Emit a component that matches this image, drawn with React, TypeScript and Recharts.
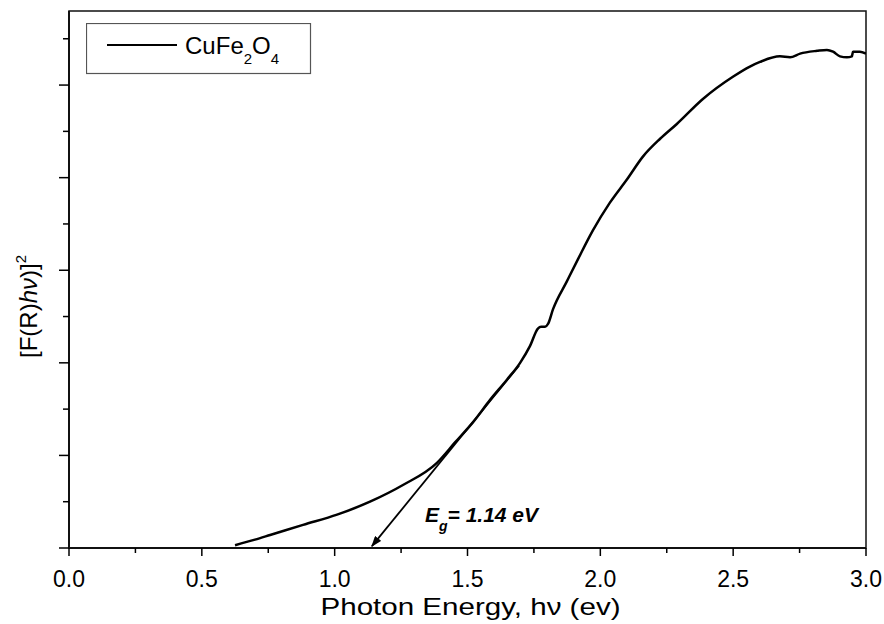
import React from 'react';
import { LineChart, Line, XAxis, YAxis, Legend, ReferenceArea, ReferenceDot, Label } from 'recharts';

// Photon energy (eV) and Kubelka-Munk [F(R)hv]^2 (arb. units)
const ENERGY = [0.625, 0.70, 0.757, 0.881, 1.009, 1.133, 1.257, 1.385, 1.453, 1.521, 1.585, 1.649, 1.698, 1.735, 1.765, 1.777, 1.792, 1.803, 1.822, 1.874, 1.916, 1.972, 2.036, 2.10, 2.161, 2.225, 2.288, 2.386, 2.499, 2.563, 2.601, 2.676, 2.714, 2.752, 2.816, 2.853, 2.876, 2.902, 2.928, 2.947, 2.951, 2.977, 3.0];
const F_VALUES = [0.03, 0.09, 0.14, 0.25, 0.36, 0.50, 0.68, 0.92, 1.14, 1.36, 1.60, 1.82, 2.00, 2.18, 2.37, 2.39, 2.39, 2.42, 2.58, 2.88, 3.12, 3.43, 3.73, 3.98, 4.23, 4.42, 4.58, 4.85, 5.09, 5.20, 5.25, 5.31, 5.30, 5.34, 5.37, 5.38, 5.36, 5.31, 5.30, 5.31, 5.36, 5.36, 5.34];

// Tangent (Tauc extrapolation) line, drawn from upper end down to the band-gap intercept
const EG_VALUE = 1.14;
const TANGENT_X = [1.694, EG_VALUE];
const TANGENT_Y = [1.97, 0.02];

// Annotation anchor
const ANNOT_X = [1.34];
const ANNOT_Y = [0.28];

const X_TICKS = [0, 0.25, 0.5, 0.75, 1, 1.25, 1.5, 1.75, 2, 2.25, 2.5, 2.75, 3];
const Y_TICKS = [0, 0.5, 1, 1.5, 2, 2.5, 3, 3.5, 4, 4.5, 5, 5.5];
const X_DOMAIN = [0, 3];
const Y_DOMAIN = [0, 5.8];

const SERIES_NAME = 'CuFe2O4';
const X_TITLE = 'Photon Energy, h\u03bd (ev)';

const curveData = ENERGY.map((x, i) => ({ x, y: F_VALUES[i] }));
const tangentData = TANGENT_X.map((x, i) => ({ x, y: TANGENT_Y[i] }));

const FONT = '"Liberation Sans", Arial, Helvetica, sans-serif';

const isMajor = (v: number) => Math.abs(v * 2 - Math.round(v * 2)) < 1e-6;
const isInt = (v: number) => Math.abs(v - Math.round(v)) < 1e-6;

const XTick = (props: any) => {
  const { x, y, payload } = props;
  const major = isMajor(payload.value);
  return (
    <g>
      <line x1={x} x2={x} y1={y} y2={y + (major ? 8 : 5)} stroke="#000" strokeWidth={1.5} />
      {major && (
        <text x={x} y={y + 39} textAnchor="middle" fontSize={23} fontFamily={FONT} fill="#000">
          {Number(payload.value).toFixed(1)}
        </text>
      )}
    </g>
  );
};

const YTick = (props: any) => {
  const { x, y, payload } = props;
  const major = isInt(payload.value);
  return <line x1={x - (major ? 10 : 6)} x2={x} y1={y} y2={y} stroke="#000" strokeWidth={1.5} />;
};

const XTitle = (props: any) => {
  const vb = props.viewBox || {};
  const cx = vb.x + vb.width / 2 + 3;
  return (
    <text x={cx} y={vb.y + 67} textAnchor="middle" fontSize={24} fontFamily={FONT} fill="#000"
      textLength={300} lengthAdjust="spacingAndGlyphs">
      {X_TITLE}
    </text>
  );
};

const YTitle = (props: any) => {
  const vb = props.viewBox || {};
  const tx = vb.x + vb.width - 32;
  const ty = vb.y + vb.height / 2 + 27;
  return (
    <text x={tx} y={ty} transform={`rotate(-90, ${tx}, ${ty})`} textAnchor="middle" fontSize={24} fontFamily={FONT} fill="#000">
      <tspan>[F(R)</tspan>
      <tspan fontStyle="italic">h{'\u03bd'}</tspan>
      <tspan>)]</tspan>
      <tspan fontSize={15} dy={-11}>2</tspan>
    </text>
  );
};

const renderName = (name: string, big: number, small: number) => {
  const parts: any[] = [];
  let sub = false;
  name.split('').forEach((ch, i) => {
    const digit = /[0-9]/.test(ch);
    if (digit && !sub) {
      parts.push(<tspan key={i} fontSize={small} dy={10}>{ch}</tspan>);
      sub = true;
    } else if (!digit && sub) {
      parts.push(<tspan key={i} fontSize={big} dy={-10}>{ch}</tspan>);
      sub = false;
    } else {
      parts.push(<tspan key={i} fontSize={digit ? small : big}>{ch}</tspan>);
    }
  });
  return parts;
};

const LegendBox = (props: any) => {
  const payload = (props.payload || []).filter((p: any) => p.type !== 'none');
  const item = payload[0];
  const name = item ? String(item.value) : SERIES_NAME;
  return (
    <svg width={226} height={52} style={{ display: 'block' }}>
      <rect x={0.5} y={0.5} width={224} height={50} fill="#fff" stroke="#555" strokeWidth={1.2} />
      <line x1={21} x2={91} y1={22} y2={22} stroke="#000" strokeWidth={2} />
      <text x={99} y={31} fontFamily={FONT} fill="#000" fontSize={24}>
        {renderName(name, 24, 15)}
      </text>
    </svg>
  );
};

const EgLabel = (props: any) => {
  const vb = props.viewBox || {};
  const x = vb.x + (vb.width || 0) / 2;
  const y = vb.y + (vb.height || 0) / 2;
  return (
    <g>
      <defs>
        <marker id="arrowHead" markerUnits="userSpaceOnUse" markerWidth={11} markerHeight={8} viewBox="0 0 11 8" refX={10} refY={4} orient="auto">
          <path d="M0,0 L11,4 L0,8 z" fill="#000" />
        </marker>
      </defs>
      <text x={x} y={y} fontFamily={FONT} fontWeight="bold" fontStyle="italic" fontSize={21} fill="#000">
        <tspan>E</tspan>
        <tspan fontSize={14} dy={9}>g</tspan>
        <tspan dy={-9}>{`= ${EG_VALUE} eV`}</tspan>
      </text>
    </g>
  );
};

export default function App() {
  return (
    <div style={{ position: 'absolute', left: 0, top: 0, width: 884, height: 624, background: '#fff' }}>
      <LineChart width={884} height={624} margin={{ top: 11, right: 18, bottom: 0, left: 0 }}>
        <XAxis dataKey="x" type="number" domain={X_DOMAIN} ticks={X_TICKS} interval={0} allowDataOverflow
          tickLine={false} tickSize={0} tickMargin={0} height={76}
          axisLine={{ stroke: '#111', strokeWidth: 2 }} tick={<XTick />}>
          <Label content={<XTitle />} />
        </XAxis>
        <YAxis type="number" domain={Y_DOMAIN} ticks={Y_TICKS} interval={0} allowDataOverflow
          tickLine={false} tickSize={0} tickMargin={0} width={69}
          axisLine={{ stroke: '#111', strokeWidth: 2 }} tick={<YTick />}>
          <Label content={<YTitle />} />
        </YAxis>
        <ReferenceArea x1={X_DOMAIN[0]} x2={X_DOMAIN[1]} y1={Y_DOMAIN[0]} y2={Y_DOMAIN[1]} fill="none" stroke="#111" strokeWidth={1.5} ifOverflow="visible" />
        <ReferenceDot x={ANNOT_X[0]} y={ANNOT_Y[0]} r={1} fill="none" stroke="none" ifOverflow="visible" label={<EgLabel />} />
        <Line data={curveData} dataKey="y" name={SERIES_NAME} type="monotone" stroke="#000" strokeWidth={2.5}
          dot={false} activeDot={false} isAnimationActive={false} />
        <Line data={tangentData} dataKey="y" name="tangent" type="linear" stroke="#000" strokeWidth={1.8}
          dot={false} activeDot={false} legendType="none" markerEnd="url(#arrowHead)" isAnimationActive={false} />
        <Legend layout="horizontal" verticalAlign="middle" align="center" content={<LegendBox />}
          wrapperStyle={{ position: 'absolute', left: 86, top: 23, width: 'auto', height: 'auto' }} />
      </LineChart>
    </div>
  );
}
